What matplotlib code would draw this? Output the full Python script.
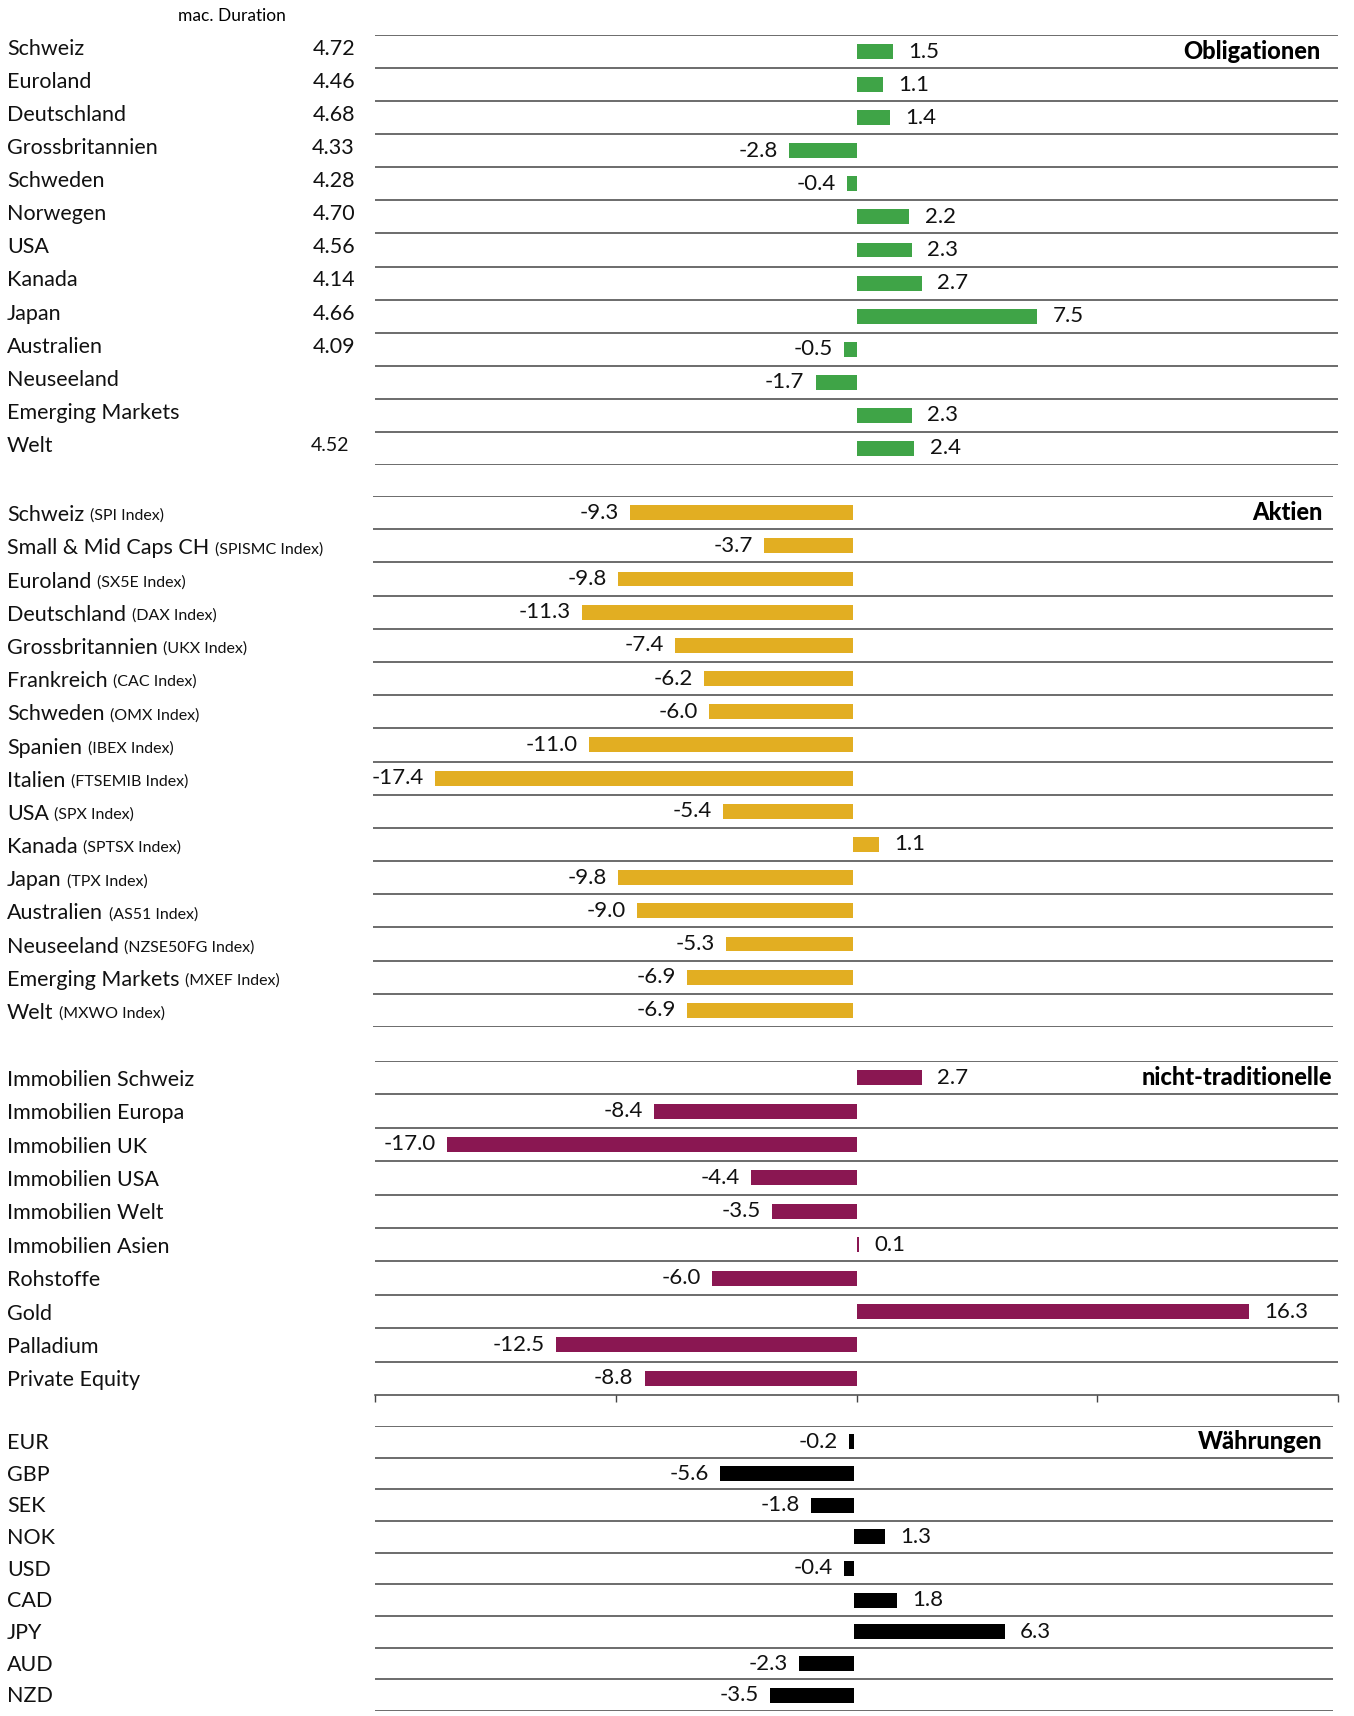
import matplotlib
matplotlib.use("Agg")
import matplotlib.pyplot as plt
from matplotlib.transforms import blended_transform_factory

plt.rcParams['font.family'] = ['Lato', 'DejaVu Sans']

# ---------------- data ----------------
bond_names = ["Schweiz", "Euroland", "Deutschland", "Grossbritannien", "Schweden",
              "Norwegen", "USA", "Kanada", "Japan", "Australien", "Neuseeland",
              "Emerging Markets", "Welt"]
bond_values = [1.5, 1.1, 1.4, -2.8, -0.4, 2.2, 2.3, 2.7, 7.5, -0.5, -1.7, 2.3, 2.4]
bond_duration = ["4.72", "4.46", "4.68", "4.33", "4.28", "4.70", "4.56", "4.14",
                 "4.66", "4.09", "", "", "4.52"]

eq_names = ["Schweiz", "Small & Mid Caps CH", "Euroland", "Deutschland", "Grossbritannien",
            "Frankreich", "Schweden", "Spanien", "Italien", "USA", "Kanada", "Japan",
            "Australien", "Neuseeland", "Emerging Markets", "Welt"]
eq_index = ["(SPI Index)", "(SPISMC Index)", "(SX5E Index)", "(DAX Index)", "(UKX Index)",
            "(CAC Index)", "(OMX Index)", "(IBEX Index)", "(FTSEMIB Index)", "(SPX Index)",
            "(SPTSX Index)", "(TPX Index)", "(AS51 Index)", "(NZSE50FG Index)",
            "(MXEF Index)", "(MXWO Index)"]
eq_values = [-9.3, -3.7, -9.8, -11.3, -7.4, -6.2, -6.0, -11.0, -17.4, -5.4, 1.1,
             -9.8, -9.0, -5.3, -6.9, -6.9]

alt_names = ["Immobilien Schweiz", "Immobilien Europa", "Immobilien UK", "Immobilien USA",
             "Immobilien Welt", "Immobilien Asien", "Rohstoffe", "Gold", "Palladium",
             "Private Equity"]
alt_values = [2.7, -8.4, -17.0, -4.4, -3.5, 0.1, -6.0, 16.3, -12.5, -8.8]

fx_names = ["EUR", "GBP", "SEK", "NOK", "USD", "CAD", "JPY", "AUD", "NZD"]
fx_values = [-0.2, -5.6, -1.8, 1.3, -0.4, 1.8, 6.3, -2.3, -3.5]

# ---------------- layout ----------------
W, H = 1354, 1716
fig = plt.figure(figsize=(W / 100, H / 100), dpi=100)

GREEN = "#3fa447"
GOLD = "#e2ae22"
PURPLE = "#8a1752"
BLACK = "#000000"
LINE = "#444444"
FS = 15.5
VFS = 16
LABEL_X = 7

def make_axes(left, right, top, bottom):
    return fig.add_axes([left / W, 1 - bottom / H, (right - left) / W, (bottom - top) / H])

def panel(ax, names, values, color, title, title_x, bottom_axis=False, bar_h=0.45,
          label_dy=0.0):
    n = len(values)
    ys = [i + 0.5 for i in range(n)]
    ax.barh(ys, values, height=bar_h, color=color, zorder=3)
    ax.set_xlim(-20, 20)
    ax.set_ylim(n, 0)
    for s in ax.spines.values():
        s.set_visible(False)
    ax.set_xticks([])
    ax.set_yticks([])
    for k in range(n + 1):
        if bottom_axis and k == n:
            continue
        ax.axhline(k, color=LINE, lw=1.1, zorder=1)
    if bottom_axis:
        ax.spines['bottom'].set_visible(True)
        ax.spines['bottom'].set_color(LINE)
        ax.spines['bottom'].set_linewidth(1.1)
        ax.set_xticks([-20, -10, 0, 10, 20])
        ax.set_xticklabels([])
        ax.tick_params(axis='x', direction='out', length=5, width=1.0, color=LINE)
    for y, v in zip(ys, values):
        if v >= 0:
            ax.annotate(f"{v:.1f}", xy=(v, y), xytext=(11, 0), textcoords='offset points',
                        ha='left', va='center', fontsize=VFS, color='#111111')
        else:
            ax.annotate(f"{v:.1f}", xy=(v, y), xytext=(-8, 0), textcoords='offset points',
                        ha='right', va='center', fontsize=VFS, color='#111111')
    tr = blended_transform_factory(fig.transFigure, ax.transData)
    texts = []
    for y, name in zip(ys, names):
        t = ax.text(LABEL_X / W, y + label_dy, name, transform=tr, ha='left', va='center',
                    fontsize=FS, clip_on=False, color='#111111')
        texts.append(t)
    ax.text(title_x / W, ys[0], title, transform=tr, ha='right', va='center',
            fontsize=17, fontweight='black')
    return ys, texts, tr

# bonds
ax1 = make_axes(375, 1338, 35, 465)
ys1, _, tr1 = panel(ax1, bond_names, bond_values, GREEN, "Obligationen", 1321, label_dy=-0.08)
for y, d, name in zip(ys1, bond_duration, bond_names):
    if d:
        small = (name == "Welt")
        ax1.text((349 if small else 355) / W, y - 0.08, d, transform=tr1, ha='right',
                 va='center', fontsize=14 if small else FS, color='#111111')
fig.text(178 / W, 1 - 16 / H, "mac. Duration", ha='left', va='center', fontsize=12.5)

# equities
ax2 = make_axes(373, 1333, 496, 1027)
ys2, texts2, _ = panel(ax2, eq_names, eq_values, GOLD, "Aktien", 1323, label_dy=0.08)
for t, idx in zip(texts2, eq_index):
    ax2.annotate(idx, xy=(1, 0), xycoords=t, xytext=(4, 1.5), textcoords='offset points',
                 ha='left', va='bottom', fontsize=11.5, color='#111111')

# non-traditional
ax3 = make_axes(375, 1338, 1061, 1395)
panel(ax3, alt_names, alt_values, PURPLE, "nicht-traditionelle", 1332, bottom_axis=True,
      label_dy=0.06)

# currencies
ax4 = make_axes(375, 1333, 1426, 1711)
panel(ax4, fx_names, fx_values, BLACK, "Währungen", 1322, bar_h=0.48, label_dy=0.04)

fig.savefig("out.png", dpi=100)
